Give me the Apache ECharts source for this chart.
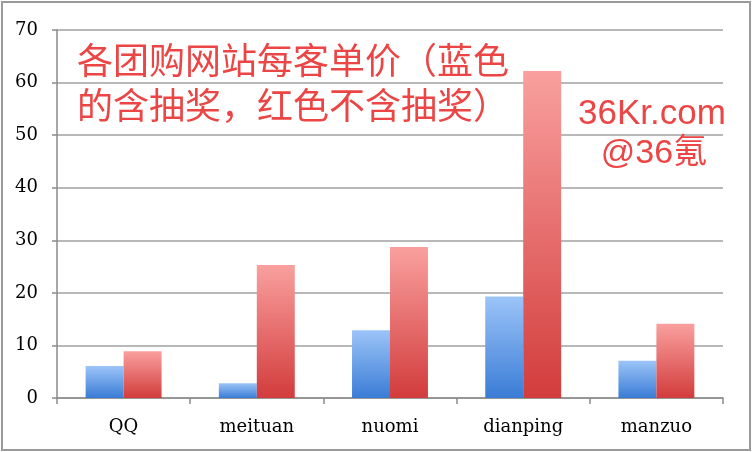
<!DOCTYPE html>
<html>
<head>
<meta charset="utf-8">
<script src="https://cdn.jsdelivr.net/npm/echarts@6/dist/echarts.min.js"></script>
<style>
html,body{margin:0;padding:0;background:#fff;}
#main{width:752px;height:452px;}
</style>
</head>
<body>
<div id="main"></div>
<script>
const categories = ['QQ', 'meituan', 'nuomi', 'dianping', 'manzuo'];
const withLottery = [6.1, 2.8, 12.9, 19.3, 7.1];      // blue
const withoutLottery = [8.9, 25.3, 28.7, 62.2, 14.1]; // red
const titleLines = ['各团购网站每客单价（蓝色', '的含抽奖，红色不含抽奖）'];
const brandLines = ['36Kr.com', '@36氪'];

const chart = echarts.init(document.getElementById('main'));
const blueGrad = new echarts.graphic.LinearGradient(0, 0, 0, 1, [
  {offset: 0, color: '#9cc4f8'}, {offset: 1, color: '#3a7cd6'}
]);
const redGrad = new echarts.graphic.LinearGradient(0, 0, 0, 1, [
  {offset: 0, color: '#f9a09e'}, {offset: 1, color: '#d23c3c'}
]);
const serif = 'DejaVu Serif';
chart.setOption({
  animation: false,
  backgroundColor: '#fff',
  grid: {left: 57, right: 29, top: 30, bottom: 54, containLabel: false},
  xAxis: {
    type: 'category',
    data: categories,
    axisLine: {lineStyle: {color: '#8a8a8a', width: 1.5}},
    axisTick: {show: true, length: 6, lineStyle: {color: '#8a8a8a', width: 1.5}},
    axisLabel: {color: '#000', fontFamily: serif, fontSize: 18, margin: 20}
  },
  yAxis: {
    type: 'value',
    min: 0, max: 70, interval: 10,
    axisLine: {show: true, lineStyle: {color: '#8a8a8a', width: 1.5}},
    axisTick: {show: true, length: 5, lineStyle: {color: '#8a8a8a', width: 1.5}},
    axisLabel: {color: '#000', fontFamily: serif, fontSize: 18, margin: 19},
    splitLine: {lineStyle: {color: '#a0a0a0', width: 1.5}}
  },
  series: [
    {type: 'bar', data: withLottery, barGap: '0%', barCategoryGap: '43%',
     itemStyle: {color: blueGrad}},
    {type: 'bar', data: withoutLottery, barGap: '0%', barCategoryGap: '43%',
     itemStyle: {color: redGrad}}
  ],
  graphic: [
    {type: 'rect', shape: {x: 2, y: 2, width: 748, height: 448},
     style: {fill: 'none', stroke: '#9a9a9a', lineWidth: 2}, z: 100},
    {type: 'text', left: 77, top: 42, z: 100,
     style: {text: titleLines[0], fill: '#ec4545', font: '36px "Noto Sans CJK SC"'}},
    {type: 'text', left: 77, top: 87, z: 100,
     style: {text: titleLines[1], fill: '#ec4545', font: '36px "Noto Sans CJK SC"'}},
    {type: 'text', x: 652, y: 114, z: 100,
     style: {text: brandLines[0], fill: '#ec4545', font: '35px "Liberation Sans"', align: 'center', verticalAlign: 'middle'}},
    {type: 'text', x: 654, y: 154, z: 100,
     style: {text: brandLines[1], fill: '#ec4545', font: '34px "Liberation Sans", "Noto Sans CJK SC"', align: 'center', verticalAlign: 'middle'}}
  ]
});
</script>
</body>
</html>
